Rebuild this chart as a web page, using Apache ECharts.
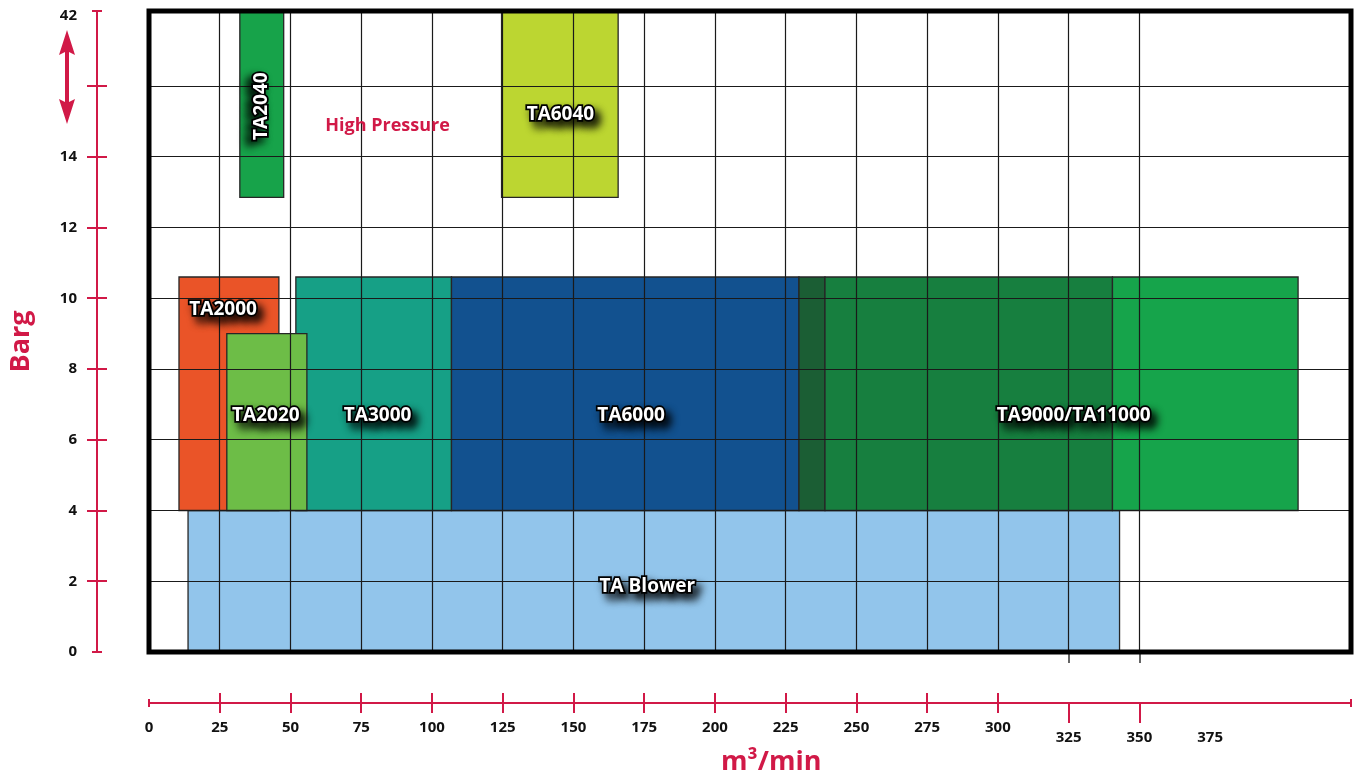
<!DOCTYPE html>
<html>
<head>
<meta charset="utf-8">
<script src="https://cdn.jsdelivr.net/npm/echarts@6/dist/echarts.min.js"></script>
<style>
html,body{margin:0;padding:0;background:#fff;}
#chart{width:1357px;height:777px;}
</style>
</head>
<body>
<div id="chart"></div>
<script>
// ---------- data ----------
const products   = ['TA Blower','TA2000','TA3000','TA6000','','TA9000','TA11000','TA2020','TA2040','TA6040'];
const flowMin    = [13.8, 10.6, 51.9, 106.9, 229.7, 238.9, 340.5, 27.5, 32.1, 124.6];
const flowMax    = [343.0, 45.9, 106.9, 229.7, 238.9, 340.5, 406.1, 55.8, 47.6, 165.8];
const pressMin   = [0, 4, 4, 4, 4, 4, 4, 4, 12.85, 12.85];
const pressMax   = [4, 10.6, 10.6, 10.6, 10.6, 10.6, 10.6, 9, 18.12, 18.12];
const colors     = ['#92c5eb','#ea5428','#16a086','#12518f','#1b5e34','#177f3f','#16a44b','#6dbd47','#17a34a','#bcd631'];

const labelText  = ['TA Blower','TA2000','TA2020','TA3000','TA6000','TA9000/TA11000','TA2040','TA6040'];
const labelX     = [176.1, 26.2, 41.3, 80.8, 170.4, 326.8, 39.9, 145.4];
const labelY     = [1.86, 9.69, 6.69, 6.69, 6.69, 6.69, 15.43, 15.18];
const labelRot   = [0, 0, 0, 0, 0, 0, 90, 0];

const noteText   = ['High Pressure'];
const noteX      = [84.3];
const noteY      = [14.88];

const xMax = 424.8, yMax = 18.12;
const gridX = [25,50,75,100,125,150,175,200,225,250,275,300,325,350];
const gridY = [2,4,6,8,10,12,14,16];
const gridXStub  = [325,350];
const xTickLong  = [25,50,75,100,125,150,175,200,225,250,275,300];
const xLabelVals = [0,25,50,75,100,125,150,175,200,225,250,275,300];
const xTickLow   = [325,350];
const xLabelLow  = [325,350,375];
const yTickVals  = [2,4,6,8,10,12,14,16];
const yLabelVals = [0,2,4,6,8,10,12,14,18];
const yTopLabel  = '42';

const RED = '#d11947';
const FONT = '"Open Sans", "Noto Sans", sans-serif';

const chart = echarts.init(document.getElementById('chart'), null, {renderer:'canvas'});

const rectData = products.map((p,i)=>[flowMin[i],flowMax[i],pressMin[i],pressMax[i],i]);
const lblData = labelText.map((t,i)=>[labelX[i],labelY[i],i]);

const hidden = {show:false};
const noLine = {show:false,onZero:false};
function xAx(extra){ return Object.assign({type:'value',min:0,max:xMax,gridIndex:0,splitLine:hidden,axisLine:noLine,axisTick:hidden,axisLabel:hidden}, extra); }
function yAx(extra){ return Object.assign({type:'value',min:0,max:yMax,gridIndex:0,splitLine:hidden,axisLine:noLine,axisTick:hidden,axisLabel:hidden}, extra); }
const tickLabelStyle = {color:'#111',fontWeight:'bold',fontSize:15,fontFamily:FONT};
const redTick = {color:RED,width:2};

const option = {
  animation:false,
  backgroundColor:'#fff',
  grid:{left:147,right:6,top:11,bottom:125,show:false},
  title:{text:'m³/min',left:716,top:744,textStyle:{color:RED,fontSize:27,fontWeight:'bold',fontFamily:FONT}},
  xAxis:[
    xAx({position:'bottom',offset:0,
      axisTick:{show:true,customValues:gridXStub,length:11,inside:false,lineStyle:{color:'#333',width:1.5}}}),
    xAx({position:'bottom',offset:51,
      axisLine:{show:true,onZero:false,lineStyle:{color:RED,width:2}},
      axisTick:{show:true,customValues:xTickLong,length:10,inside:false,lineStyle:redTick},
      axisLabel:{show:true,customValues:xLabelVals,margin:17,...tickLabelStyle}}),
    xAx({position:'bottom',offset:51,
      axisTick:{show:true,customValues:xTickLong,length:10,inside:true,lineStyle:redTick}}),
    xAx({position:'bottom',offset:51,
      axisTick:{show:true,customValues:xTickLow,length:20,inside:false,lineStyle:redTick},
      axisLabel:{show:true,customValues:xLabelLow,margin:27,...tickLabelStyle}}),
    xAx({position:'bottom',offset:51,
      axisTick:{show:true,customValues:[0,xMax],length:4,inside:false,lineStyle:redTick}}),
    xAx({position:'bottom',offset:51,
      axisTick:{show:true,customValues:[0,xMax],length:4,inside:true,lineStyle:redTick}})
  ],
  yAxis:[
    yAx({}),
    yAx({position:'left',offset:52,
      name:'Barg',nameLocation:'middle',nameGap:62,nameRotate:90,
      nameTextStyle:{color:RED,fontSize:27,fontWeight:'bold',fontFamily:FONT,padding:[0,20,0,0]},
      axisLine:{show:true,onZero:false,lineStyle:{color:RED,width:2}},
      axisTick:{show:true,customValues:yTickVals,length:10,inside:false,lineStyle:redTick},
      axisLabel:{show:true,customValues:yLabelVals,margin:20,
        formatter:v=> (v>17? yTopLabel : String(v)),...tickLabelStyle}}),
    yAx({position:'left',offset:52,
      axisTick:{show:true,customValues:yTickVals,length:10,inside:true,lineStyle:redTick}}),
    yAx({position:'left',offset:52,
      axisTick:{show:true,customValues:[0,yMax],length:5,inside:false,lineStyle:redTick}}),
    yAx({position:'left',offset:52,
      axisTick:{show:true,customValues:[0,yMax],length:5,inside:true,lineStyle:redTick}})
  ],
  graphic:[
    {type:'polyline',shape:{points:[[67,48],[67,107]]},style:{stroke:RED,lineWidth:4}},
    {type:'polygon',shape:{points:[[67,30],[75,55],[67,51],[59,55]]},style:{fill:RED}},
    {type:'polygon',shape:{points:[[67,124],[75,99],[67,103],[59,99]]},style:{fill:RED}}
  ],
  series:[
    {
      type:'line',xAxisIndex:0,yAxisIndex:0,data:[],z:1,silent:true,
      markLine:{silent:true,symbol:['none','none'],label:{show:false},
        lineStyle:{color:'#1a1a1a',width:1.2,type:'solid'},
        data:[...gridX.map(v=>({xAxis:v})),...gridY.map(v=>({yAxis:v}))]}
    },
    {
      type:'custom',xAxisIndex:0,yAxisIndex:0,z:3,silent:true,
      data:rectData,
      encode:{x:[0,1],y:[2,3]},
      renderItem:function(params,api){
        const i = api.value(4);
        const p0 = api.coord([api.value(0),api.value(3)]);
        const p1 = api.coord([api.value(1),api.value(2)]);
        return {type:'rect',shape:{x:p0[0],y:p0[1],width:p1[0]-p0[0],height:p1[1]-p0[1]},
          style:{fill:colors[i],stroke:'#262626',lineWidth:1.3}};
      }
    },
    {
      type:'custom',xAxisIndex:0,yAxisIndex:0,z:5,silent:true,
      data:lblData,
      encode:{x:0,y:1},
      renderItem:function(params,api){
        const i = api.value(2);
        const p = api.coord([api.value(0),api.value(1)]);
        const rot = labelRot[i]*Math.PI/180;
        return {type:'text',x:p[0],y:p[1],rotation:rot,
          style:{text:labelText[i],fill:'#fff',stroke:'#000',lineWidth:3.5,
            font:'bold 19px '+FONT,align:'center',verticalAlign:'middle',
            textShadowColor:'rgba(0,0,0,0.8)',textShadowBlur:9,
            textShadowOffsetX:labelRot[i]?-5:5,textShadowOffsetY:labelRot[i]?5:6}};
      }
    },
    {
      type:'custom',xAxisIndex:0,yAxisIndex:0,z:5,silent:true,
      data:noteText.map((t,i)=>[noteX[i],noteY[i],i]),
      encode:{x:0,y:1},
      renderItem:function(params,api){
        const i = api.value(2);
        const p = api.coord([api.value(0),api.value(1)]);
        return {type:'text',x:p[0],y:p[1],
          style:{text:noteText[i],fill:RED,font:'bold 18px '+FONT,align:'center',verticalAlign:'middle'}};
      }
    },
    {
      type:'custom',xAxisIndex:0,yAxisIndex:0,z:6,silent:true,
      data:[[0,xMax,0,yMax]],
      encode:{x:[0,1],y:[2,3]},
      renderItem:function(params,api){
        const p0 = api.coord([api.value(0),api.value(3)]);
        const p1 = api.coord([api.value(1),api.value(2)]);
        return {type:'rect',shape:{x:p0[0],y:p0[1],width:p1[0]-p0[0],height:p1[1]-p0[1]},
          style:{fill:'none',stroke:'#000',lineWidth:5}};
      }
    }
  ]
};
chart.setOption(option);
</script>
</body>
</html>
